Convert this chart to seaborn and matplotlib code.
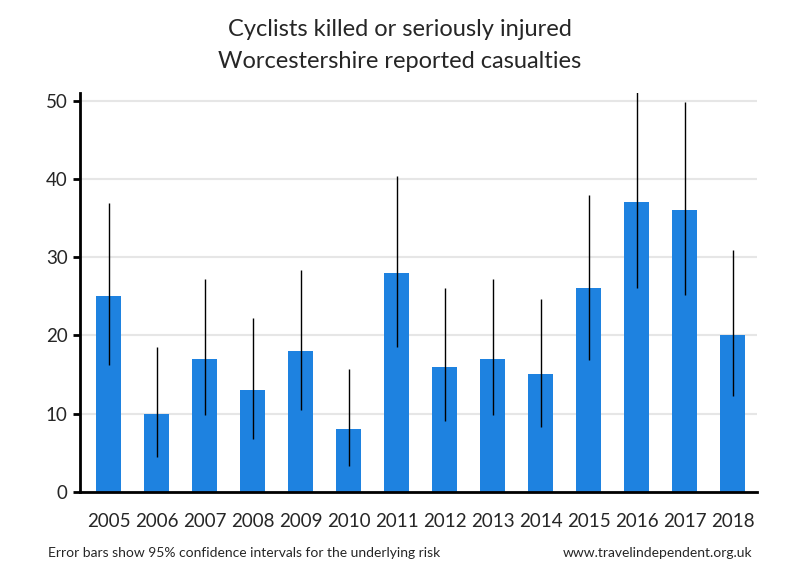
import matplotlib
matplotlib.use("Agg")
import matplotlib.pyplot as plt
import numpy as np
import pandas as pd
import seaborn as sns

# Data
years = ["2005", "2006", "2007", "2008", "2009", "2010", "2011",
         "2012", "2013", "2014", "2015", "2016", "2017", "2018"]
casualties = [25, 10, 17, 13, 18, 8, 28, 16, 17, 15, 26, 37, 36, 20]
ci_low = [16.2, 4.5, 9.8, 6.8, 10.5, 3.3, 18.5, 9.1, 9.8, 8.3, 16.9, 26.0, 25.2, 12.2]
ci_high = [36.9, 18.5, 27.2, 22.2, 28.4, 15.7, 40.4, 26.0, 27.2, 24.6, 38.0, 54.0, 49.8, 30.9]

df = pd.DataFrame({"year": years, "value": casualties,
                   "low": ci_low, "high": ci_high})

sns.set_style("white")
plt.rcParams["font.family"] = ["Lato", "DejaVu Sans"]

fig = plt.figure(figsize=(8, 5.8), dpi=100)
ax = fig.add_axes([0.1, 0.152, 0.846, 0.688])

sns.barplot(ax=ax, data=df, x="year", y="value", color="#1e82e0",
            saturation=1, width=0.52, linewidth=0, zorder=2)
ax.vlines(np.arange(len(years)), df["low"], df["high"], color="black",
          linewidth=1, zorder=3)

ax.set_ylim(0, 51)
ax.set_xlim(-0.6, 13.5)
ax.set_yticks([0, 10, 20, 30, 40, 50])
ax.yaxis.grid(True, color="#e6e6e6", linewidth=1.5)
ax.set_axisbelow(True)
ax.set_xlabel("")
ax.set_ylabel("")

for side in ["top", "right"]:
    ax.spines[side].set_visible(False)
for side in ["left", "bottom"]:
    ax.spines[side].set_color("black")
    ax.spines[side].set_linewidth(2)

ax.tick_params(axis="y", direction="out", length=5, width=2, color="black",
               labelsize=13.5, left=True, pad=4)
ax.tick_params(axis="x", length=0, labelsize=13.5, pad=15)

fig.text(0.5, 0.949, "Cyclists killed or seriously injured",
         ha="center", va="center", fontsize=17)
fig.text(0.5, 0.894, "Worcestershire reported casualties",
         ha="center", va="center", fontsize=17)
fig.text(0.06, 0.046, "Error bars show 95% confidence intervals for the underlying risk",
         ha="left", va="center", fontsize=10)
fig.text(0.94, 0.046, "www.travelindependent.org.uk",
         ha="right", va="center", fontsize=10)

fig.savefig("out.png", dpi=100)
